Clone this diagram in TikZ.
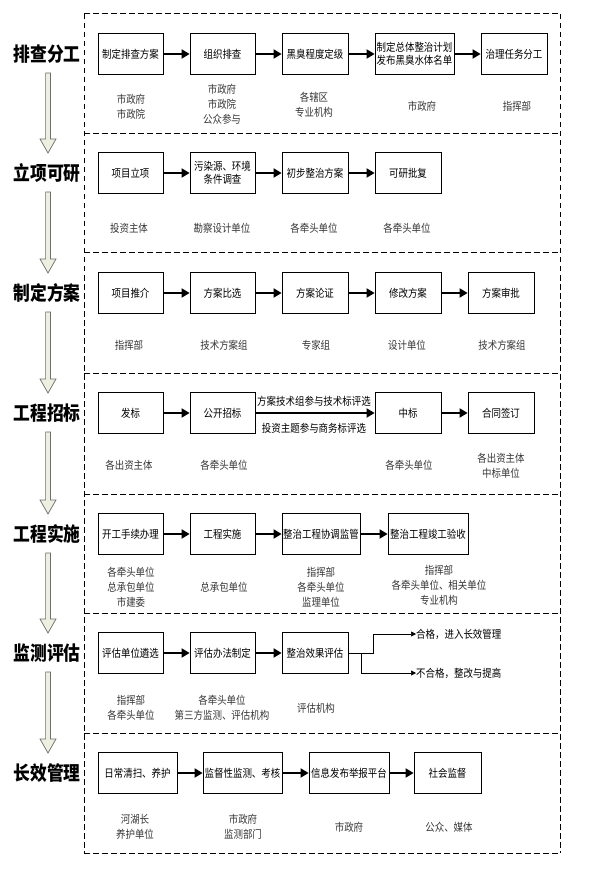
\documentclass[tikz,border=0pt]{standalone}
\usepackage{fontspec}
\setmainfont[FakeStretch=0.86]{Noto Sans CJK SC}
\usetikzlibrary{arrows.meta,calc}
\definecolor{arrfill}{RGB}{238,238,226}
\definecolor{arredge}{RGB}{110,110,105}
\definecolor{lblcol}{RGB}{55,55,55}
\newcommand\hollowarrow[2]{%
  \draw[fill=arrfill,draw=arredge,line width=0.7pt,line join=miter]
   ($(#1)+(-2.4,0)$) -- ($(#2)+(-2.4,-14)$) -- ($(#2)+(-8,-14)$) -- (#2)
   -- ($(#2)+(8,-14)$) -- ($(#2)+(2.4,-14)$) -- ($(#1)+(2.4,0)$) -- cycle;}
\begin{document}
\begin{tikzpicture}[x=1pt,y=-1pt,
 box/.style={draw,line width=0.8pt,minimum height=41pt,inner sep=0pt,font=\fontsize{11}{13}\selectfont,align=center},
 lbl/.style={font=\fontsize{11}{15}\selectfont,align=center,text=lblcol,inner sep=0pt},
 ttl/.style={font=\fontsize{19.5}{20}\selectfont\bfseries,inner sep=0pt},
 flow/.style={line width=1.8pt,-{Triangle[length=8pt,width=9pt]}},
 thinflow/.style={line width=0.7pt,-{Triangle[length=5pt,width=5pt]}},
 sect/.style={draw,line width=1pt,dash pattern=on 5.5pt off 3.5pt},
 note/.style={font=\fontsize{11}{13}\selectfont,inner sep=0pt}]
\useasboundingbox (0,0) rectangle (594,874);
\fill[white] (0,0) rectangle (594,874);

% sections (dashed frame and separators)
\draw[sect] (84,14) -- (84,853);
\draw[sect] (560,14) -- (560,853);
\foreach \yy in {14,134,253,373,494,613,733,853}{
  \draw[sect] (84,\yy) -- (560,\yy);
}

% titles
\node[ttl] (t1) at (47,54) {排查分工};
\node[ttl] (t2) at (47,173) {立项可研};
\node[ttl] (t3) at (47,293) {制定方案};
\node[ttl] (t4) at (47,413) {工程招标};
\node[ttl] (t5) at (47,534) {工程实施};
\node[ttl] (t6) at (47,653) {监测评估};
\node[ttl] (t7) at (47,773) {长效管理};

\coordinate (v1s) at (48,73);  \coordinate (v1e) at (48,153);
\coordinate (v2s) at (48,192); \coordinate (v2e) at (48,273);
\coordinate (v3s) at (48,312); \coordinate (v3e) at (48,393);
\coordinate (v4s) at (48,432); \coordinate (v4e) at (48,514);
\coordinate (v5s) at (48,553); \coordinate (v5e) at (48,633);
\coordinate (v6s) at (48,672); \coordinate (v6e) at (48,753);
\hollowarrow{v1s}{v1e}
\hollowarrow{v2s}{v2e}
\hollowarrow{v3s}{v3e}
\hollowarrow{v4s}{v4e}
\hollowarrow{v5s}{v5e}
\hollowarrow{v6s}{v6e}

% row 1
\node[box,minimum width=65pt] (a1) at (130.5,54) {制定排查方案};
\node[box,minimum width=65pt] (a2) at (222.5,54) {组织排查};
\node[box,minimum width=66pt] (a3) at (315,54) {黑臭程度定级};
\node[box,minimum width=79pt] (a4) at (414.5,54) {制定总体整治计划\\发布黑臭水体名单};
\node[box,minimum width=66pt] (a5) at (514,54) {治理任务分工};
\draw[flow] (a1) -- (a2);
\draw[flow] (a2) -- (a3);
\draw[flow] (a3) -- (a4);
\draw[flow] (a4) -- (a5);
\node[lbl] (la1) at (131,107) {市政府\\市政院};
\node[lbl] (la2) at (222,104) {市政府\\市政院\\公众参与};
\node[lbl] (la3) at (314,105) {各辖区\\专业机构};
\node[lbl] (la4) at (422,106) {市政府};
\node[lbl] (la5) at (517,106) {指挥部};

% row 2
\node[box,minimum width=65pt] (b1) at (130.5,173) {项目立项};
\node[box,minimum width=65pt] (b2) at (222.5,173) {污染源、环境\\条件调查};
\node[box,minimum width=66pt] (b3) at (315,173) {初步整治方案};
\node[box,minimum width=66pt] (b4) at (408,173) {可研批复};
\draw[flow] (b1) -- (b2);
\draw[flow] (b2) -- (b3);
\draw[flow] (b3) -- (b4);
\node[lbl] (lb1) at (129,228) {投资主体};
\node[lbl] (lb2) at (222,228) {勘察设计单位};
\node[lbl] (lb3) at (314,228) {各牵头单位};
\node[lbl] (lb4) at (407,228) {各牵头单位};

% row 3
\node[box,minimum width=65pt] (c1) at (130.5,293) {项目推介};
\node[box,minimum width=65pt] (c2) at (222.5,293) {方案比选};
\node[box,minimum width=66pt] (c3) at (315,293) {方案论证};
\node[box,minimum width=66pt] (c4) at (408,293) {修改方案};
\node[box,minimum width=66pt] (c5) at (501,293) {方案审批};
\draw[flow] (c1) -- (c2);
\draw[flow] (c2) -- (c3);
\draw[flow] (c3) -- (c4);
\draw[flow] (c4) -- (c5);
\node[lbl] (lc1) at (129,345) {指挥部};
\node[lbl] (lc2) at (224,345) {技术方案组};
\node[lbl] (lc3) at (316,345) {专家组};
\node[lbl] (lc4) at (407,345) {设计单位};
\node[lbl] (lc5) at (502,345) {技术方案组};

% row 4
\node[box,minimum width=65pt] (d1) at (130.5,413) {发标};
\node[box,minimum width=65pt] (d2) at (222.5,413) {公开招标};
\node[box,minimum width=66pt] (d3) at (408,413) {中标};
\node[box,minimum width=66pt] (d4) at (501,413) {合同签订};
\draw[flow] (d1) -- (d2);
\draw[flow] (d2) -- (d3);
\draw[flow] (d3) -- (d4);
\node[note] (d23a) at (314,401) {方案技术组参与技术标评选};
\node[note] (d23b) at (314,428) {投资主题参与商务标评选};
\node[lbl] (ld1) at (129,465) {各出资主体};
\node[lbl] (ld2) at (224,465) {各牵头单位};
\node[lbl] (ld3) at (409,465) {各牵头单位};
\node[lbl] (ld4) at (501,466) {各出资主体\\中标单位};

% row 5
\node[box,minimum width=65pt] (e1) at (130.5,534) {开工手续办理};
\node[box,minimum width=65pt] (e2) at (222.5,534) {工程实施};
\node[box,minimum width=78pt] (e3) at (321,534) {整治工程协调监管};
\node[box,minimum width=80pt] (e4) at (428,534) {整治工程竣工验收};
\draw[flow] (e1) -- (e2);
\draw[flow] (e2) -- (e3);
\draw[flow] (e3) -- (e4);
\node[lbl] (le1) at (131,587) {各牵头单位\\总承包单位\\市建委};
\node[lbl] (le2) at (224,587) {总承包单位};
\node[lbl] (le3) at (321,587) {指挥部\\各牵头单位\\监理单位};
\node[lbl] (le4) at (439,585) {指挥部\\各牵头单位、相关单位\\专业机构};

% row 6
\node[box,minimum width=65pt] (f1) at (130.5,653) {评估单位遴选};
\node[box,minimum width=65pt] (f2) at (222.5,653) {评估办法制定};
\node[box,minimum width=66pt] (f3) at (315,653) {整治效果评估};
\draw[flow] (f1) -- (f2);
\draw[flow] (f2) -- (f3);
\node[note,anchor=west] (fok) at (416,634) {合格，进入长效管理};
\node[note,anchor=west] (fno) at (416,673) {不合格，整改与提高};
\draw[thinflow] (f3.east) -- ++(25,0) |- (fok.west);
\draw[thinflow] ($(f3.east)+(13,0)$) |- (fno.west);
\node[lbl] (lf1) at (131,708) {指挥部\\各牵头单位};
\node[lbl] (lf2) at (222,708) {各牵头单位\\第三方监测、评估机构};
\node[lbl] (lf3) at (316,708) {评估机构};

% row 7
\node[box,minimum width=79pt] (g1) at (137.5,773) {日常清扫、养护};
\node[box,minimum width=79pt] (g2) at (242.5,773) {监督性监测、考核};
\node[box,minimum width=80pt] (g3) at (349,773) {信息发布举报平台};
\node[box,minimum width=67pt] (g4) at (447.5,773) {社会监督};
\draw[flow] (g1) -- (g2);
\draw[flow] (g2) -- (g3);
\draw[flow] (g3) -- (g4);
\node[lbl] (lg1) at (135,827) {河湖长\\养护单位};
\node[lbl] (lg2) at (243,827) {市政府\\监测部门};
\node[lbl] (lg3) at (349,827) {市政府};
\node[lbl] (lg4) at (449,827) {公众、媒体};
\end{tikzpicture}
\end{document}
